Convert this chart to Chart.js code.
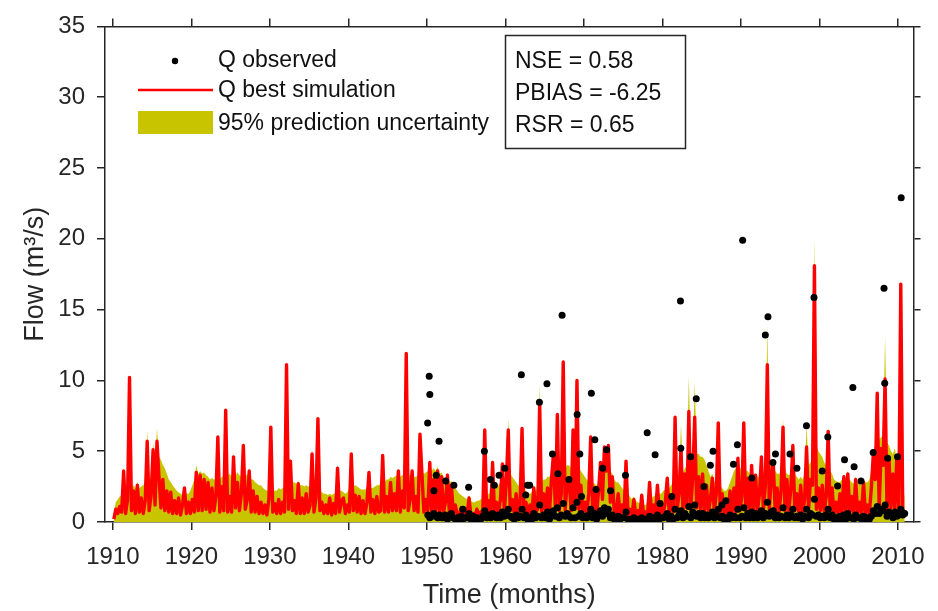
<!DOCTYPE html>
<html>
<head>
<meta charset="utf-8">
<title>Flow</title>
<script src="https://cdn.jsdelivr.net/npm/chart.js"></script>
<style>
    html, body { margin: 0; padding: 0; background: #fff; }
    #wrap { width: 938px; height: 611px; }
</style>
</head>
<body>
<div id="wrap"><canvas id="chart" width="938" height="611"></canvas></div>
<script>
// quarterly values, 1910 Q1 .. 2010 Q4 (m3/s)
const simStart = 1910;
const simFlow = [
    0.2,0.9,0.6,1.1, 0.7,3.6,0.6,1.6, 10.2,0.8,2.2,0.6, 2.6,0.7,1.7,0.6, 1.5,5.7,0.8,1.9, 5.1,1.2,5.7,3.2, 1.0,3.0,0.8,2.2, 0.7,2.1,0.6,1.5, 0.6,1.7,0.5,1.2, 2.4,0.6,1.4,0.6,
    1.6,0.7,3.5,0.8, 3.3,0.8,3.0,0.9, 2.8,0.7,2.4,0.8, 1.8,6.0,0.7,2.5, 0.8,7.9,0.7,1.8, 0.7,4.6,1.0,2.8, 0.8,2.0,5.4,0.9, 1.6,3.6,0.7,2.2, 0.7,1.8,0.6,1.4, 0.6,1.2,0.5,1.6,
    6.7,0.7,1.3,0.6, 1.6,0.6,1.4,0.7, 11.1,0.9,4.3,0.8, 1.5,0.6,2.7,0.6, 1.7,0.6,2.0,0.7, 1.2,4.8,0.7,1.7, 7.3,0.8,1.4,0.6, 1.2,0.6,1.7,0.5, 1.3,0.6,3.8,0.7, 1.5,1.7,0.6,1.2,
    0.7,4.8,0.8,1.9, 0.7,1.8,0.6,1.5, 0.6,1.4,3.5,0.7, 1.6,0.6,1.8,0.7, 0.8,4.7,0.7,1.8, 0.7,2.8,0.8,2.0, 0.8,3.6,0.7,2.2, 1.0,11.9,0.8,1.6, 3.6,0.8,1.8,0.7, 6.2,3.4,0.7,1.6,
    0.8,4.2,0.7,3.0, 0.7,3.6,0.6,3.2, 0.7,1.4,3.3,0.6, 2.6,0.6,1.2,0.5, 0.5,1.0,0.4,0.8, 0.5,1.7,0.4,0.6, 0.4,0.9,0.5,0.7, 0.6,6.5,0.5,1.5, 0.6,4.2,0.6,1.4, 0.6,1.6,4.1,0.7,
    2.8,6.5,0.8,1.6, 0.6,2.0,0.5,1.2, 6.6,0.6,1.4,0.5, 1.2,0.5,2.4,0.6, 1.0,8.4,0.7,2.0, 0.8,2.4,0.7,3.0, 4.8,0.9,7.6,0.8, 2.0,11.3,0.8,2.8, 3.0,0.8,6.5,0.9, 10.0,0.9,2.6,0.7,
    1.4,0.6,2.0,6.0, 0.7,2.4,0.6,2.2, 4.2,1.6,5.3,3.6, 5.4,1.4,3.2,0.7, 0.6,2.0,0.5,1.2, 0.6,4.3,0.5,0.9, 0.4,1.6,0.4,0.8, 0.4,1.9,0.4,0.7, 0.5,2.8,0.5,1.2, 0.5,2.6,0.5,1.4,
    0.6,1.4,3.1,0.6, 1.6,0.7,7.4,0.8, 2.0,5.3,0.8,3.4, 1.0,7.8,0.9,3.2, 7.4,1.0,3.2,0.8, 3.4,0.8,2.6,0.7, 1.6,3.1,0.7,2.0, 7.0,0.7,2.0,0.6, 1.5,0.5,2.2,0.6, 2.4,0.7,4.5,0.8,
    1.8,7.0,0.8,3.1, 0.7,4.0,0.8,3.3, 0.8,2.0,4.6,0.8, 2.6,11.1,0.9,3.0, 4.3,0.8,2.4,0.7, 2.2,6.7,0.8,3.0, 0.8,2.4,5.4,0.8, 2.0,0.7,2.6,0.6, 1.6,5.3,0.8,3.0, 2.6,18.1,0.9,2.4,
    0.8,2.6,0.7,1.8, 6.4,0.8,2.4,0.6, 1.4,0.6,2.0,0.6, 3.2,0.7,3.4,0.7, 1.8,0.6,3.0,0.6, 1.4,0.6,2.8,0.6, 1.2,0.6,2.4,4.8, 3.0,9.1,1.0,5.2, 4.0,10.1,0.9,4.5, 1.0,3.4,0.9,4.6,
    1.0,16.8,0.8,0.9
];

// upper limit of the 95PPU band, same quarters
const bandUpper = [
    0.6,1.4,1.6,1.8, 1.9,3.4,2.0,2.2, 9.8,2.4,2.6,2.4, 2.8,2.4,2.5,2.6, 2.8,6.5,3.0,3.2, 5.6,4.4,6.6,4.6, 4.4,4.0,3.8,3.4, 3.0,2.8,2.6,2.4, 2.2,2.1,2.0,1.9, 2.5,2.0,2.0,2.2,
    2.6,3.0,4.0,3.4, 3.6,3.4,3.5,3.3, 3.2,3.0,3.1,3.0, 3.0,6.0,3.0,3.2, 3.2,7.7,3.3,3.4, 3.2,4.9,3.3,3.5, 3.3,3.2,5.5,3.3, 3.3,3.8,3.0,3.0, 2.8,2.7,2.6,2.6, 2.4,2.3,2.2,2.2,
    6.5,2.2,2.2,2.2, 2.4,2.3,2.4,2.5, 10.9,2.8,4.5,2.8, 2.8,2.7,2.9,2.6, 2.6,2.5,2.6,2.5, 2.5,5.1,2.5,2.4, 7.2,2.2,2.1,2.0, 2.0,1.9,2.0,1.9, 2.0,2.0,4.0,2.2, 2.2,2.1,2.0,2.1,
    2.4,5.0,2.5,2.6, 2.5,2.4,2.3,2.3, 2.3,2.4,3.6,2.4, 2.4,2.5,2.6,2.6, 2.7,4.8,2.8,3.0, 3.0,3.2,3.1,3.2, 3.3,3.6,3.2,3.3, 3.4,12.1,3.4,3.3, 3.8,3.2,3.2,3.3, 6.4,3.6,3.4,3.5,
    3.6,4.4,3.6,3.8, 3.6,3.9,3.4,3.5, 3.2,3.0,3.5,2.8, 2.9,2.6,2.4,2.2, 2.0,1.9,1.8,1.7, 1.6,1.9,1.5,1.4, 1.4,1.5,1.5,1.6, 1.7,6.3,1.8,2.0, 2.1,4.4,2.3,2.4, 2.6,2.8,4.3,3.0,
    3.4,7.3,3.4,3.2, 3.0,2.8,2.6,2.5, 6.4,2.3,2.2,2.0, 2.0,2.1,2.6,2.2, 2.4,9.7,2.8,3.0, 3.0,3.2,3.2,3.4, 5.0,3.6,7.5,3.8, 3.8,11.1,3.8,4.0, 4.0,3.8,6.8,4.0, 9.8,3.9,3.6,3.4,
    3.2,3.0,2.8,6.2, 2.8,2.7,2.6,2.6, 3.8,3.8,4.6,4.0, 4.6,3.6,3.4,3.0, 2.8,2.8,2.6,2.4, 2.2,4.4,2.0,1.8, 1.6,1.8,1.5,1.4, 1.3,2.0,1.2,1.2, 1.5,2.8,1.7,1.8, 1.9,2.6,2.0,2.0,
    2.2,2.3,3.3,2.4, 2.6,2.8,7.2,3.0, 3.2,6.9,3.5,3.8, 4.0,10.3,4.4,4.5, 9.9,4.8,4.8,4.6, 4.6,4.4,4.0,3.6, 3.2,3.4,2.8,2.8, 6.8,2.6,2.4,2.2, 2.2,2.4,2.8,3.2, 3.6,3.8,4.6,3.8,
    3.8,7.0,3.6,3.6, 3.4,3.8,3.4,3.4, 3.2,3.2,4.5,3.4, 3.8,14.0,4.0,4.0, 4.4,3.6,3.4,3.4, 3.4,7.3,3.6,3.4, 3.3,3.4,5.6,3.4, 3.2,3.0,3.2,3.0, 3.4,6.8,4.0,4.2, 4.4,20.0,5.4,5.0,
    4.8,4.6,4.2,4.0, 6.6,3.6,3.4,3.0, 2.9,2.8,2.8,3.0, 3.3,3.0,3.6,3.0, 2.8,2.7,3.2,2.8, 2.7,2.6,3.0,2.8, 2.8,3.0,3.6,5.0, 5.4,9.0,5.8,6.0, 6.0,13.1,5.6,5.4, 5.0,4.8,5.2,4.2,
    3.6,16.0,2.4,1.8
];

// observed flow, quarterly from 1950 (low flows)
const obsStart = 1950;
const obsFlow = [
    0.5,0.3,0.4,0.6, 0.4,0.3,0.5,0.3, 0.3,0.5,0.2,0.4, 0.6,0.3,0.2,0.3, 0.2,0.4,0.2,0.3, 0.3,0.6,0.2,0.4, 0.2,0.3,0.2,0.2, 0.4,0.8,0.3,0.5, 0.3,0.6,0.4,0.3, 0.5,0.3,0.7,0.4,
    0.6,0.9,0.4,0.3, 0.2,0.5,0.3,0.4, 0.9,0.3,0.5,0.2, 0.3,0.2,0.6,0.3, 0.4,1.2,0.3,0.5, 0.3,0.7,0.2,0.6, 0.8,0.4,1.0,0.3, 0.5,1.3,0.4,0.6, 0.4,0.3,1.0,0.3, 1.4,0.4,0.6,0.3,
    0.4,0.3,0.5,0.9, 0.3,0.6,0.2,0.5, 0.8,0.4,1.0,0.6, 0.9,0.3,0.5,0.2, 0.2,0.4,0.2,0.3, 0.3,0.7,0.2,0.2, 0.2,0.3,0.1,0.2, 0.2,0.3,0.1,0.2, 0.2,0.4,0.2,0.3, 0.2,0.5,0.2,0.3,
    0.3,0.4,0.6,0.2, 0.4,0.2,0.9,0.3, 0.5,0.8,0.3,0.6, 0.4,1.1,0.3,0.7, 1.2,0.4,0.6,0.3, 0.6,0.3,0.5,0.3, 0.4,0.7,0.3,0.5, 0.9,0.3,0.4,0.2, 0.3,0.2,0.5,0.3, 0.4,0.3,0.9,0.3,
    0.4,1.0,0.3,0.6, 0.3,0.7,0.3,0.6, 0.3,0.4,0.8,0.3, 0.6,1.4,0.4,0.7, 0.8,0.3,0.5,0.3, 0.4,1.0,0.3,0.5, 0.3,0.5,0.9,0.3, 0.4,0.3,0.5,0.2, 0.4,0.9,0.3,0.6, 0.5,1.6,0.4,0.5,
    0.3,0.4,0.3,0.5, 0.9,0.3,0.5,0.2, 0.3,0.2,0.4,0.2, 0.5,0.2,0.6,0.3, 0.3,0.2,0.5,0.3, 0.3,0.2,0.4,0.2, 0.3,0.2,0.4,0.8, 0.6,1.1,0.6,0.9, 0.8,1.2,0.4,0.7, 0.5,0.3,0.7,0.4,
    0.5,0.9,0.5,0.6
];

// observed high flows (time in years, flow)
const peakYears = [1950.10, 1950.30, 1950.38, 1951.55, 1950.9, 1951.2, 1952.4, 1953.44, 1954.6, 1955.32, 1957.33, 1958.1, 1958.6, 1959.2, 1959.94,
    1962.04, 1962.6, 1962.83, 1963.1, 1964.34, 1965.30, 1966.0, 1966.7, 1967.23, 1968.1, 1969.15, 1969.49, 1969.7, 1970.96, 1971.4,
    1971.55, 1972.4, 1972.9, 1973.4, 1975.3, 1978.07, 1979.08, 1979.7, 1981.2, 1982.31, 1982.35, 1983.6, 1984.32, 1985.3, 1986.12,
    1986.46, 1987.6, 1988.1, 1989.06, 1989.56, 1990.23, 1991.4, 1993.12, 1993.46, 1994.09, 1994.41, 1996.26, 1997.14, 1998.36, 1999.32,
    2000.37, 2001.08, 2002.33, 2003.21, 2004.27, 2004.43, 2005.31, 2006.86, 2008.24, 2008.33, 2008.7, 2009.96, 2010.43];
const peakFlow = [7.0, 10.3, 9.0, 5.7, 2.2, 3.3, 2.9, 2.6, 0.9, 2.45, 5.0, 3.0, 2.6, 3.3, 3.8,
    10.4, 1.9, 2.6, 2.6, 8.45, 9.77, 4.8, 3.4, 14.6, 3.0, 7.6, 4.8, 1.8, 9.1, 5.8,
    2.3, 3.8, 5.1, 2.2, 3.3, 6.3, 4.75, 1.3, 1.8, 15.6, 5.2, 4.6, 8.7, 2.5, 4.0,
    5.0, 1.2, 1.5, 4.07, 5.45, 19.9, 3.1, 13.2, 14.5, 4.2, 4.8, 4.8, 3.8, 6.8, 15.85,
    3.6, 6.0, 2.55, 4.4, 9.5, 3.9, 2.9, 4.9, 16.5, 9.8, 4.5, 4.6, 22.9];

const xTicks = [1910, 1920, 1930, 1940, 1950, 1960, 1970, 1980, 1990, 2000, 2010];
const yTicks = [0, 5, 10, 15, 20, 25, 30, 35];
const legendLabels = ['Q observed', 'Q best simulation', '95% prediction uncertainty'];
const statsLines = ['NSE = 0.58', 'PBIAS = -6.25', 'RSR = 0.65'];

const AXIS = '#262626';
const RED = '#ff0000';
const BAND = 'rgb(200,196,0)';
const FONT = '"Liberation Sans", Arial, sans-serif';

const simData = simFlow.map((v, i) => ({x: simStart + (i + 0.5) / 4, y: v}));
const bandData = bandUpper.map((v, i) => ({x: simStart + (i + 0.5) / 4, y: v}));
const obsData = obsFlow.map((v, i) => ({x: obsStart + (i + 0.5) / 4, y: v}))
    .concat(peakYears.map((t, i) => ({x: t, y: peakFlow[i]})));

// legend, stats box and axis titles drawn on top of the plot
const overlay = {
    id: 'overlay',
    afterDraw(chart) {
        const ctx = chart.ctx;
        const area = chart.chartArea;
        ctx.save();
        ctx.font = '23px ' + FONT;
        ctx.textBaseline = 'middle';
        ctx.textAlign = 'left';

        // legend
        ctx.fillStyle = '#000';
        ctx.beginPath();
        ctx.arc(175, 61, 3.2, 0, Math.PI * 2);
        ctx.fill();
        ctx.strokeStyle = RED;
        ctx.lineWidth = 2.6;
        ctx.beginPath();
        ctx.moveTo(138, 90);
        ctx.lineTo(213, 90);
        ctx.stroke();
        ctx.fillStyle = BAND;
        ctx.fillRect(138, 111, 75, 23);
        ctx.fillStyle = '#111';
        ctx.fillText(legendLabels[0], 218, 61);
        ctx.fillText(legendLabels[1], 218, 91);
        ctx.fillText(legendLabels[2], 218, 124);

        // stats box
        ctx.fillStyle = '#fff';
        ctx.fillRect(506, 36, 179, 112);
        ctx.strokeStyle = AXIS;
        ctx.lineWidth = 1.5;
        ctx.strokeRect(505.5, 35.5, 180, 113);
        ctx.fillStyle = '#111';
        statsLines.forEach((s, i) => ctx.fillText(s, 515, 62 + i * 32));

        // axis titles
        ctx.fillStyle = AXIS;
        ctx.font = '27px ' + FONT;
        ctx.textAlign = 'center';
        ctx.fillText('Time (months)', (area.left + area.right) / 2, 596);
        ctx.translate(36, (area.top + area.bottom) / 2);
        ctx.rotate(-Math.PI / 2);
        ctx.fillText('Flow (m\u00b3/s)', 0, 0);
        ctx.restore();
    }
};

function tickGrid(len) {
    return {drawOnChartArea: false, drawTicks: true, tickLength: len, color: AXIS, tickColor: AXIS, lineWidth: 1.5, tickWidth: 1.5};
}

const ctx = document.getElementById('chart').getContext('2d');
new Chart(ctx, {
    type: 'line',
    data: {
        datasets: [{
            label: legendLabels[0],
            data: obsData,
            showLine: false,
            pointRadius: 3.5,
            pointBorderWidth: 0,
            pointBackgroundColor: '#000'
        }, {
            label: legendLabels[1],
            data: simData,
            borderColor: RED,
            borderWidth: 3.4,
            borderJoinStyle: 'round',
            pointRadius: 0,
            tension: 0,
            fill: false
        }, {
            label: legendLabels[2],
            data: bandData,
            borderWidth: 0,
            borderColor: BAND,
            backgroundColor: BAND,
            pointRadius: 0,
            tension: 0,
            fill: 'origin'
        }]
    },
    options: {
        responsive: false,
        animation: false,
        layout: {padding: 0},
        plugins: {
            legend: {display: false},
            tooltip: {enabled: false}
        },
        scales: {
            x: {
                type: 'linear', position: 'bottom', min: 1909, max: 2012,
                afterBuildTicks: s => { s.ticks = xTicks.map(v => ({value: v})); },
                afterFit: s => { s.height = 89; },
                grid: tickGrid(8),
                border: {display: true, color: AXIS, width: 1.5},
                ticks: {autoSkip: false, maxRotation: 0, padding: 13, color: AXIS, font: {size: 24, family: FONT},
                    callback: v => String(v)}
            },
            x2: {
                type: 'linear', position: 'top', min: 1909, max: 2012,
                afterBuildTicks: s => { s.ticks = xTicks.map(v => ({value: v})); },
                afterFit: s => { s.height = 17; },
                grid: tickGrid(8),
                border: {display: true, color: AXIS, width: 1.5},
                ticks: {display: false}
            },
            y: {
                type: 'linear', position: 'left', min: 0, max: 35,
                afterBuildTicks: s => { s.ticks = yTicks.map(v => ({value: v})); },
                afterFit: s => { s.width = 105; },
                grid: tickGrid(8),
                border: {display: true, color: AXIS, width: 1.5},
                ticks: {padding: 12, color: AXIS, font: {size: 24, family: FONT}}
            },
            y2: {
                type: 'linear', position: 'right', min: 0, max: 35,
                afterBuildTicks: s => { s.ticks = yTicks.map(v => ({value: v})); },
                afterFit: s => { s.width = 14; },
                grid: tickGrid(7),
                border: {display: true, color: AXIS, width: 1.5},
                ticks: {display: false}
            }
        }
    },
    plugins: [overlay]
});
</script>
</body>
</html>
